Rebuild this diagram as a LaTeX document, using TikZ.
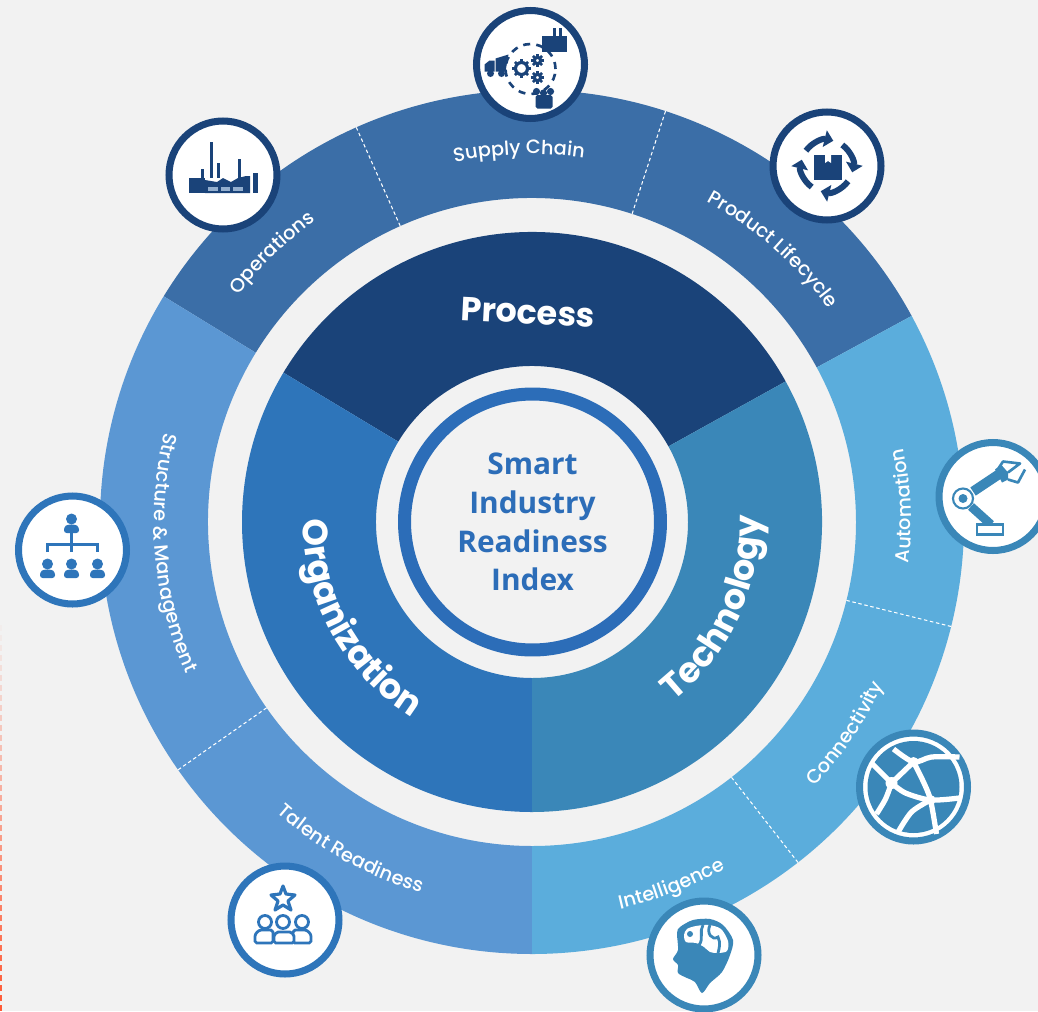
\documentclass[tikz,border=0pt]{standalone}
\usepackage{fontspec}
\usepackage{tikz}
\usetikzlibrary{decorations.text,arrows.meta}
\setmainfont{Poppins}
\newfontfamily\titlefont{Open Sans}
\newfontfamily\labelfont{Poppins Medium}
\definecolor{pagegray}{HTML}{F2F2F2}
\definecolor{processdark}{HTML}{1A4379}
\definecolor{orgblue}{HTML}{2E75BA}
\definecolor{techblue}{HTML}{3A87B8}
\definecolor{processring}{HTML}{3B6EA7}
\definecolor{orgring}{HTML}{5B97D3}
\definecolor{techring}{HTML}{5BADDC}
\definecolor{centerblue}{HTML}{2C6DB8}
\definecolor{edgered}{HTML}{FF5A36}
\newcommand{\sector}[5]{\fill [#5] (#1:#3) arc (#1:#2:#3) -- (#2:#4) arc (#2:#1:#4) -- cycle;}
\newcommand{\arclabel}[5]{\path [decorate,decoration={text along path,text align=center,text={|#4|#5}}] (#1:#3) arc (#1:#2:#3);}
\newcommand{\smallfont}{\color{white}\labelfont\fontsize{11}{13}\selectfont}
\newcommand{\bigfont}{\color{white}\bfseries\fontsize{20}{23}\selectfont}
\newcommand{\gearicon}[3]{\begin{scope}[shift={(#1,#2)}]
\draw [processdark,line width=1.8pt] (0,0) circle (#3);
\foreach \a in {0,45,...,315} \draw [processdark,line width=1.5pt] (\a:#3) -- (\a:{#3+3.2});
\end{scope}}
\newcommand{\personicon}[3]{\begin{scope}[shift={(#1,#2)}]
\fill [#3] (0,7) circle (5.5);
\fill [#3,rounded corners=1.5pt] (-7.5,-7) -- (-7.5,-1) -- (-4,1.5) -- (4,1.5) -- (7.5,-1) -- (7.5,-7) -- cycle;
\end{scope}}
\begin{document}
\begin{tikzpicture}[x=0.02cm,y=0.02cm]
\tikzstyle{every node}+=[inner sep=0pt]
\tikzstyle{sepline}=[white,line width=0.6pt,dash pattern=on 2pt off 1.5pt]
\tikzstyle{iconring}=[circle,draw,fill=white,line width=4pt,minimum size=2.16cm]
\useasboundingbox (0,0) rectangle (1038,-1011);
\fill [pagegray] (0,0) rectangle (1038,-1011);
\foreach \y in {625,635,...,1005} {
\pgfmathsetmacro\lineop{(\y-615)/390}
\draw [edgered,line width=1.3pt,opacity=\lineop] (0.8,-\y) -- (0.8,{-\y-6});
}
\begin{scope}[shift={(532,-522)}]
\sector{28.5}{148.5}{324}{432}{processring}
\sector{148.5}{270}{324}{432}{orgring}
\sector{270}{388.5}{324}{432}{techring}
\sector{29}{149}{156}{290}{processdark}
\sector{149}{270}{156}{290}{orgblue}
\sector{270}{389}{156}{290}{techblue}
\draw [sepline] (114:324) -- (114:432);
\draw [sepline] (72:324) -- (72:432);
\draw [sepline] (-14:324) -- (-14:432);
\draw [sepline] (-52:324) -- (-52:432);
\draw [sepline] (215:324) -- (215:432);
\arclabel{159}{109}{371}{\smallfont}{Operations}
\arclabel{122}{62}{368}{\smallfont}{Supply Chain}
\arclabel{78}{19}{365}{\smallfont}{Product Lifecycle}
\arclabel{-22}{27}{379}{\smallfont}{Automation}
\arclabel{-59}{-9}{387}{\smallfont}{Connectivity}
\arclabel{-94}{-44}{397}{\smallfont}{Intelligence}
\arclabel{211}{271}{387}{\smallfont}{Talent Readiness}
\arclabel{150}{220}{378}{\smallfont}{Structure {\&} Management}
\arclabel{170}{248}{229}{\bigfont}{Organization}
\arclabel{-60}{10}{228}{\bigfont}{Technology}
\end{scope}
\node [rotate=-3,text=white,font=\bfseries\fontsize{19}{22}\selectfont] (process) at (528,-312) {Process};
\node [circle,draw=centerblue,line width=7.4pt,minimum size=5.12cm,align=center,text=centerblue,font=\titlefont\bfseries\fontsize{17}{22}\selectfont] (index) at (532.5,-522) {Smart\\Industry\\Readiness\\Index};
\node [iconring,draw=processdark] (supply) at (530.5,-64.5) {};
\node [iconring,draw=processdark] (operations) at (223,-175) {};
\node [iconring,draw=processdark] (lifecycle) at (827,-166) {};
\node [iconring,draw=techblue] (automation) at (993,-496.5) {};
\node [iconring,draw=techblue] (connectivity) at (913.5,-787) {};
\node [iconring,draw=techblue] (intelligence) at (704,-955) {};
\node [iconring,draw=orgblue] (talent) at (285,-920) {};
\node [iconring,draw=orgblue] (structure) at (72.5,-550) {};
\begin{scope}[shift={(supply.center)}]
\draw [processdark,line width=1.5pt,dash pattern=on 4pt off 3.5pt] (0,-4.5) circle (25);
\gearicon{-9}{-4}{6}
\gearicon{7}{4}{3.2}
\gearicon{7}{-13}{3.2}
\fill [processdark] (-35,6) -- (-22,10) -- (-25,-7) -- (-35,-7) -- cycle;
\fill [processdark] (-46,-7) -- (-46,0) -- (-41,4) -- (-36,4) -- (-36,-7) -- cycle;
\fill [processdark] (-40,-9) circle (3.5);
\fill [processdark] (-29,-9) circle (3.5);
\fill [processdark] (11,13) rectangle (36,29);
\fill [processdark] (22,29) rectangle (25,37);
\fill [processdark] (28,29) rectangle (31,37);
\fill [processdark] (6,-27) circle (3.6);
\fill [processdark] (13,-28.5) circle (3.6);
\fill [processdark] (20,-27) circle (3.6);
\fill [processdark,rounded corners=1pt] (5,-44) rectangle (22,-30.5);
\end{scope}
\begin{scope}[shift={(operations.center)}]
\fill [processdark] (-34,-18) rectangle (-18,-3);
\fill [processdark] (-22,-3) rectangle (-19,6);
\fill [processdark] (-13,-3) rectangle (-10,33);
\fill [processdark] (-6,-3) rectangle (-3,12);
\fill [processdark] (15,-3) rectangle (18,16);
\fill [processdark] (30,-18) rectangle (35,2);
\fill [processdark] (-18,-18) -- (-18,-5) -- (-6,-7) -- (0,-3) -- (8,-7) -- (15,-3) -- (23,-1) -- (27,-1) -- (27,-18) -- cycle;
\fill [processring!55!white] (-15,-15.7) rectangle (-5,-12.3);
\fill [processring!55!white] (-2,-15.7) rectangle (7,-12.3);
\fill [processring!55!white] (10,-15.7) rectangle (20,-12.3);
\end{scope}
\begin{scope}[shift={(lifecycle.center)}]
\fill [processdark] (-13,-14) rectangle (15,11);
\fill [white] (-2,11) -- (-2,3) -- (1,5) -- (4,3) -- (4,11) -- cycle;
\draw [processdark,line width=3.4pt,-{Triangle[length=5pt,width=9.5pt]}] (144:26) arc (144:76:26);
\draw [processdark,line width=3.4pt,-{Triangle[length=5pt,width=9.5pt]}] (54:26) arc (54:-14:26);
\draw [processdark,line width=3.4pt,-{Triangle[length=5pt,width=9.5pt]}] (-36:26) arc (-36:-104:26);
\draw [processdark,line width=3.4pt,-{Triangle[length=5pt,width=9.5pt]}] (-126:26) arc (-126:-194:26);
\end{scope}
\begin{scope}[shift={(automation.center)}]
\draw [techblue,line width=5.6pt] (-20,5) -- (7,23);
\draw [techblue,line width=5pt] (-22,-10) -- (-2,-28);
\fill [techblue] (2,27) -- (8,32) -- (15,24) -- (15,17) -- (9,14) -- cycle;
\draw [techblue,line width=1.5pt,line join=round] (6,29) -- (10,35) -- (27,33) -- (15,24);
\draw [techblue,line width=1.5pt,line join=round] (32,27) -- (25,14) -- (15,17);
\draw [techblue,line width=1.6pt,fill=white] (-16,-38) rectangle (10,-28);
\draw [techblue,line width=1.2pt,fill=white] (-30,-2) circle (10);
\fill [techblue] (-30,-2) circle (4.5);
\end{scope}
\begin{scope}[shift={(connectivity.center)}]
\fill [techblue] (0,0) circle (46);
\draw [white,line width=3pt] plot [smooth] coordinates {(-42,24) (-22,4)};
\draw [white,line width=3pt] plot [smooth] coordinates {(-20,38) (0,25) (18,30) (46,30)};
\draw [white,line width=3pt] (0,25) -- (-22,4);
\draw [white,line width=3pt] plot [smooth] coordinates {(0,25) (10,5) (17,-13) (23,-47)};
\draw [white,line width=3pt] plot [smooth] coordinates {(-22,4) (-8,-6) (17,-13) (46,-11)};
\draw [white,line width=3pt] plot [smooth] coordinates {(-22,4) (-28,-12) (-37,-27)};
\draw [white,line width=3pt] plot [smooth] coordinates {(17,-13) (-2,-25) (-16,-46)};
\fill [white] (0,25) circle (5);
\fill [white] (-22,4) circle (6);
\fill [white] (17,-13) circle (5);
\end{scope}
\begin{scope}[shift={(intelligence.center)}]
\fill [techblue] plot [smooth cycle,tension=0.5] coordinates {(-27,22) (-26,5) (-31,-4) (-26,-10) (-26,-18) (-17,-23) (-9,-27) (-2,-38) (6,-28) (18,-17) (26,0) (29,15) (19,30) (6,36) (-11,35) (-24,28)};
\fill [white] plot [smooth cycle,tension=0.5] coordinates {(-20,20) (-17,26) (-8,29) (5,30) (17,26) (24,14) (23,4) (14,2) (6,3) (0,8) (-8,12) (-18,13)};
\draw [techblue,line width=1.6pt] (-1,30) .. controls (-5,24) and (0,16) .. (-5,10);
\draw [techblue,line width=1.6pt] (6,30) .. controls (2,22) and (8,14) .. (14,18) .. controls (17,12) and (15,6) .. (14,2);
\fill [techblue] (-14,21) circle (3);
\end{scope}
\begin{scope}[shift={(talent.center)}]
\draw [orgblue,line width=1.8pt,line join=round] (-2,34) -- (1,26) -- (10,25) -- (3,19) -- (6,10) -- (-2,15) -- (-10,10) -- (-7,19) -- (-14,25) -- (-5,26) -- cycle;
\draw [orgblue,line width=1.6pt,fill=white] (-20,-2) circle (6.5);
\draw [orgblue,line width=1.6pt,fill=white] (17,-2) circle (6.5);
\draw [orgblue,line width=1.6pt,fill=white] (-2,-2) circle (6.5);
\draw [orgblue,line width=1.6pt,fill=white,rounded corners=1pt] (-30,-23) -- (-30,-18) arc (180:90:8) -- (-16,-10) arc (90:0:4) -- (-12,-23) -- cycle;
\draw [orgblue,line width=1.6pt,fill=white,rounded corners=1pt] (26,-23) -- (26,-18) arc (0:90:8) -- (12,-10) arc (90:180:4) -- (8,-23) -- cycle;
\draw [orgblue,line width=1.6pt,fill=white,rounded corners=1pt] (-11,-23) -- (-11,-18) arc (180:90:6) -- (3,-12) arc (90:0:6) -- (9,-23) -- cycle;
\end{scope}
\begin{scope}[shift={(structure.center)}]
\personicon{-1}{24}{orgblue}
\personicon{-25}{-21}{orgblue}
\personicon{-1}{-21}{orgblue}
\personicon{25}{-21}{orgblue}
\draw [orgblue,line width=1.7pt] (-1,17) -- (-1,-2);
\draw [orgblue,line width=1.7pt] (-25,-2) -- (-25,6) -- (25,6) -- (25,-2);
\end{scope}
\end{tikzpicture}
\end{document}
